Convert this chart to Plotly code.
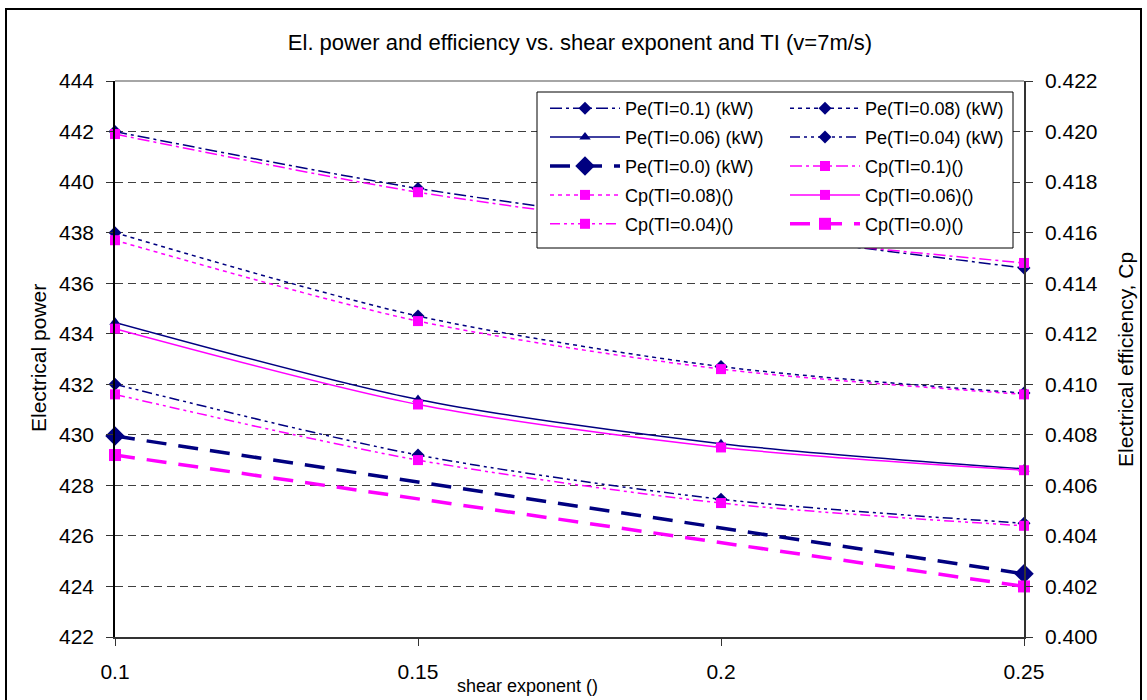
import plotly.graph_objects as go

# shear exponent values on the x axis
shear = [0.1, 0.15, 0.2, 0.25]
shear_ti0 = [0.1, 0.25]

# electrical power (kW), left axis
pe_ti010 = [442.0, 439.75, 438.1, 436.6]
pe_ti008 = [438.0, 434.7, 432.7, 431.65]
pe_ti006 = [434.45, 431.4, 429.65, 428.65]
pe_ti004 = [432.0, 429.2, 427.45, 426.5]
pe_ti000 = [429.95, 424.5]

# electrical efficiency Cp, right axis
cp_ti010 = [0.4199, 0.4176, 0.4160, 0.4148]
cp_ti008 = [0.4157, 0.4125, 0.4106, 0.4096]
cp_ti006 = [0.4122, 0.4092, 0.4075, 0.4066]
cp_ti004 = [0.4096, 0.4070, 0.4053, 0.4044]
cp_ti000 = [0.4072, 0.4020]

yticks_left = list(range(422, 445, 2))
yticks_right = [0.400, 0.402, 0.404, 0.406, 0.408, 0.410, 0.412, 0.414, 0.416, 0.418, 0.420, 0.422]

NAVY = "#000080"
MAG = "#FF00FF"
FONT = "Arial, Liberation Sans, sans-serif"

DASHDOT = "12px,4px,3px,4px"
DOT = "4px,4px"
DASHDOTDOT = "10px,4px,3px,4px,3px,4px"
LONGDASH = "20px,12px"

# plot area in page pixels
L, T, R, B = 115, 81, 1024, 637
PW, PH = R - L, B - T


def px(x):
    return (x - L) / PW


def py(y):
    return (B - y) / PH


fig = go.Figure()


def add(x, y, name, color, dash, width, symbol, size, axis, legend):
    fig.add_trace(go.Scatter(
        x=x, y=y, name=name, mode="lines+markers", yaxis=axis,
        legend=legend, legendgroup=name, cliponaxis=False,
        line=dict(color=color, dash=dash, width=width, shape="spline", smoothing=0.8),
        marker=dict(color=color, symbol=symbol, size=size),
    ))


add(shear, pe_ti010, "Pe(TI=0.1) (kW)", NAVY, DASHDOT, 1.5, "diamond", 10, "y", "legend")
add(shear, pe_ti008, "Pe(TI=0.08) (kW)", NAVY, DOT, 1.5, "diamond", 10, "y", "legend2")
add(shear, pe_ti006, "Pe(TI=0.06) (kW)", NAVY, "solid", 1.5, "triangle-up", 10, "y", "legend")
add(shear, pe_ti004, "Pe(TI=0.04) (kW)", NAVY, DASHDOTDOT, 1.5, "diamond", 10, "y", "legend2")
add(shear_ti0, pe_ti000, "Pe(TI=0.0) (kW)", NAVY, LONGDASH, 3.5, "diamond", 15, "y", "legend")
add(shear, cp_ti010, "Cp(TI=0.1)()", MAG, DASHDOT, 1.5, "square", 10, "y2", "legend2")
add(shear, cp_ti008, "Cp(TI=0.08)()", MAG, DOT, 1.5, "square", 10, "y2", "legend")
add(shear, cp_ti006, "Cp(TI=0.06)()", MAG, "solid", 1.5, "square", 10, "y2", "legend2")
add(shear, cp_ti004, "Cp(TI=0.04)()", MAG, DASHDOTDOT, 1.5, "square", 10, "y2", "legend")
add(shear_ti0, cp_ti000, "Cp(TI=0.0)()", MAG, LONGDASH, 3.5, "square", 12, "y2", "legend2")

legend_common = dict(
    bgcolor="rgba(0,0,0,0)", borderwidth=0, font=dict(size=18, family=FONT, color="black"),
    tracegroupgap=2.5, itemwidth=70, yanchor="top", xanchor="left",
)

fig.update_layout(
    width=1147, height=700,
    margin=dict(l=L, r=1147 - R, t=T, b=700 - B),
    paper_bgcolor="white", plot_bgcolor="white",
    font=dict(family=FONT, color="black", size=20),
    title=dict(text="El. power and efficiency vs. shear exponent and TI (v=7m/s)",
               x=580 / 1147, xanchor="center", y=1 - 42 / 700, yanchor="middle",
               font=dict(size=22, family=FONT, color="black")),
    xaxis=dict(range=[0.1, 0.25], tickvals=shear, ticktext=["0.1", "0.15", "0.2", "0.25"],
               showgrid=False, zeroline=False, showline=True, linecolor="#333", linewidth=1.5,
               ticks="outside", ticklen=7, tickcolor="#333", tickfont=dict(size=21),
               ticklabelstandoff=8),
    yaxis=dict(range=[422, 444], tickvals=yticks_left, showgrid=True, gridcolor="#404040",
               griddash="8px,5px", gridwidth=1, zeroline=False, showline=True,
               linecolor="black", linewidth=1.5, ticks="outside", ticklen=7,
               tickcolor="#333", tickfont=dict(size=21), ticklabelstandoff=8),
    yaxis2=dict(range=[0.4, 0.422], tickvals=yticks_right, tickformat=".3f", overlaying="y",
                side="right", showgrid=False, zeroline=False, showline=True,
                linecolor="#333", linewidth=1.5, ticks="outside", ticklen=7,
                tickcolor="#333", tickfont=dict(size=21), ticklabelstandoff=8),
    legend=dict(x=px(545), y=py(90), **legend_common),
    legend2=dict(x=px(785), y=py(90), **legend_common),
    showlegend=True,
)

# outer chart border, plot top border and legend box
fig.add_shape(type="rect", xref="paper", yref="paper",
              x0=px(6), x1=px(1141), y0=py(712), y1=py(9),
              line=dict(color="black", width=2), fillcolor="rgba(0,0,0,0)", layer="below")
fig.add_shape(type="line", xref="paper", yref="paper", x0=0, x1=1, y0=1, y1=1,
              line=dict(color="#888", width=1.5))
fig.add_shape(type="rect", xref="paper", yref="paper",
              x0=px(537), x1=px(1013), y0=py(248), y1=py(92),
              line=dict(color="black", width=1), fillcolor="white", layer="above")

# axis titles
fig.add_annotation(text="shear exponent ()", xref="paper", yref="paper",
                   x=px(527), y=py(686), xanchor="center", yanchor="middle", showarrow=False,
                   font=dict(size=18, family=FONT, color="black"))
fig.add_annotation(text="Electrical power", xref="paper", yref="paper",
                   x=px(38), y=py(358), xanchor="center", yanchor="middle",
                   showarrow=False, textangle=-90,
                   font=dict(size=21, family=FONT, color="black"))
fig.add_annotation(text="Electrical efficiency, Cp", xref="paper", yref="paper",
                   x=px(1125), y=py(360), xanchor="center", yanchor="middle",
                   showarrow=False, textangle=-90,
                   font=dict(size=21, family=FONT, color="black"))

# drop the default page margin so the figure sits at the window's top-left corner
fig.write_html("out.html", config={"displayModeBar": False},
               post_script="document.body.style.margin='0';document.body.style.overflow='hidden';")
